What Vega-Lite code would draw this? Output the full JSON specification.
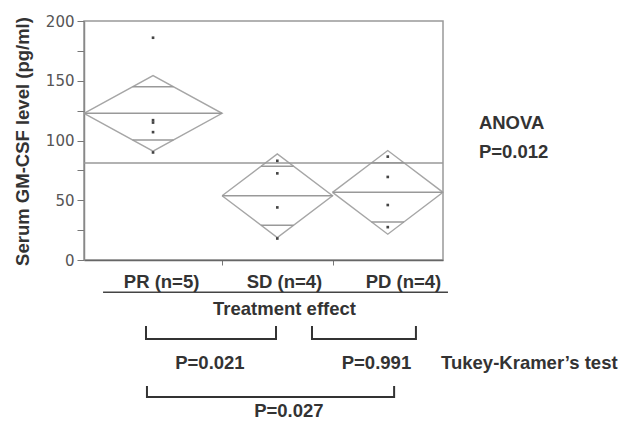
{
  "$schema": "https://vega.github.io/schema/vega-lite/v6.json",
  "width": 359,
  "height": 239,
  "autosize": {"type": "none"},
  "padding": {"left": 84, "top": 21, "right": 179, "bottom": 165},
  "background": "white",
  "config": {
    "view": {"stroke": "#999999", "strokeWidth": 1.5},
    "axis": {"grid": false}
  },
  "datasets": {
    "diamonds": [
      {"g": "PR", "x": 0, "y": 122.7, "o": 0},
      {"g": "PR", "x": 2.5, "y": 154.3, "o": 1},
      {"g": "PR", "x": 5, "y": 122.7, "o": 2},
      {"g": "PR", "x": 2.5, "y": 91.1, "o": 3},
      {"g": "PR", "x": 0, "y": 122.7, "o": 4},
      {"g": "SD", "x": 5, "y": 53.8, "o": 0},
      {"g": "SD", "x": 7, "y": 88.8, "o": 1},
      {"g": "SD", "x": 9, "y": 53.8, "o": 2},
      {"g": "SD", "x": 7, "y": 18.8, "o": 3},
      {"g": "SD", "x": 5, "y": 53.8, "o": 4},
      {"g": "PD", "x": 9, "y": 56.6, "o": 0},
      {"g": "PD", "x": 11, "y": 91.6, "o": 1},
      {"g": "PD", "x": 13, "y": 56.6, "o": 2},
      {"g": "PD", "x": 11, "y": 21.6, "o": 3},
      {"g": "PD", "x": 9, "y": 56.6, "o": 4}
    ],
    "rules": [
      {"x": 0, "x2": 5, "y": 122.7},
      {"x": 1.76, "x2": 3.24, "y": 145.0},
      {"x": 1.76, "x2": 3.24, "y": 100.4},
      {"x": 5, "x2": 9, "y": 53.8},
      {"x": 6.41, "x2": 7.59, "y": 78.5},
      {"x": 6.41, "x2": 7.59, "y": 29.1},
      {"x": 9, "x2": 13, "y": 56.6},
      {"x": 10.41, "x2": 11.59, "y": 81.35},
      {"x": 10.41, "x2": 11.59, "y": 31.85},
      {"x": 0, "x2": 13, "y": 81.2}
    ],
    "underline": [
      {"x": 0.69, "x2": 13.18, "y": -27}
    ],
    "points": [
      {"g": "PR", "x": 2.5, "y": 186},
      {"g": "PR", "x": 2.5, "y": 117},
      {"g": "PR", "x": 2.5, "y": 115},
      {"g": "PR", "x": 2.5, "y": 107},
      {"g": "PR", "x": 2.5, "y": 90},
      {"g": "SD", "x": 7, "y": 83},
      {"g": "SD", "x": 7, "y": 72.5},
      {"g": "SD", "x": 7, "y": 44},
      {"g": "SD", "x": 7, "y": 18},
      {"g": "PD", "x": 11, "y": 86.5},
      {"g": "PD", "x": 11, "y": 69.5},
      {"g": "PD", "x": 11, "y": 46},
      {"g": "PD", "x": 11, "y": 27.5}
    ],
    "brackets": [
      {"b": "PR-SD", "x": 2.245, "y": -55.2, "o": 0},
      {"b": "PR-SD", "x": 2.245, "y": -66.1, "o": 1},
      {"b": "PR-SD", "x": 6.953, "y": -66.1, "o": 2},
      {"b": "PR-SD", "x": 6.953, "y": -55.2, "o": 3},
      {"b": "SD-PD", "x": 8.256, "y": -55.2, "o": 0},
      {"b": "SD-PD", "x": 8.256, "y": -66.1, "o": 1},
      {"b": "SD-PD", "x": 12.02, "y": -66.1, "o": 2},
      {"b": "SD-PD", "x": 12.02, "y": -55.2, "o": 3},
      {"b": "PR-PD", "x": 2.28, "y": -105.4, "o": 0},
      {"b": "PR-PD", "x": 2.28, "y": -114.6, "o": 1},
      {"b": "PR-PD", "x": 11.23, "y": -114.6, "o": 2},
      {"b": "PR-PD", "x": 11.23, "y": -105.4, "o": 3}
    ],
    "textsCenter": [
      {"t": "PR (n=5)", "x": 2.81, "y": -18.2},
      {"t": "SD (n=4)", "x": 7.26, "y": -18.2},
      {"t": "PD (n=4)", "x": 11.57, "y": -18.2},
      {"t": "Treatment effect", "x": 7.26, "y": -41.2},
      {"t": "P=0.021", "x": 4.56, "y": -86.5},
      {"t": "P=0.991", "x": 10.59, "y": -86.5},
      {"t": "P=0.027", "x": 7.42, "y": -126}
    ],
    "textsLeft": [
      {"t": "Tukey-Kramer’s test", "x": 12.93, "y": -86.5},
      {"t": "ANOVA", "x": 14.3, "y": 114.5},
      {"t": "P=0.012", "x": 14.3, "y": 90.5}
    ]
  },
  "encoding": {
    "x": {
      "field": "x",
      "type": "quantitative",
      "scale": {"domain": [0, 13], "nice": false, "zero": false},
      "axis": {
        "values": [5, 9],
        "labels": false,
        "title": null,
        "tickSize": 5,
        "tickColor": "#777777",
        "domainColor": "#666666",
        "domainWidth": 1.5
      }
    },
    "y": {
      "field": "y",
      "type": "quantitative",
      "scale": {"domain": [0, 200], "nice": false, "zero": false},
      "axis": {
        "values": [0, 25, 50, 75, 100, 125, 150, 175, 200],
        "labelExpr": "datum.value % 50 === 0 ? datum.label : ''",
        "labelFont": "DejaVu Sans",
        "labelFontSize": 15,
        "labelColor": "#555555",
        "labelPadding": 3,
        "tickSize": 7,
        "tickColor": "#777777",
        "domainColor": "#888888",
        "domainWidth": 1.5,
        "title": "Serum GM-CSF level (pg/ml)",
        "titleFont": "Liberation Sans",
        "titleFontWeight": "bold",
        "titleFontSize": 18.5,
        "titleColor": "#333333",
        "titleAngle": -90,
        "titleAlign": "center",
        "titleBaseline": "alphabetic",
        "titleX": -56,
        "titleY": 120
      }
    }
  },
  "layer": [
    {
      "data": {"name": "diamonds"},
      "mark": {"type": "line", "color": "#a6a6a6", "strokeWidth": 1.4},
      "encoding": {
        "detail": {"field": "g"},
        "order": {"field": "o", "type": "quantitative"}
      }
    },
    {
      "data": {"name": "rules"},
      "mark": {"type": "rule", "color": "#999999", "strokeWidth": 1.5},
      "encoding": {"x2": {"field": "x2"}}
    },
    {
      "data": {"name": "underline"},
      "mark": {"type": "rule", "color": "#444444", "strokeWidth": 1.5},
      "encoding": {"x2": {"field": "x2"}}
    },
    {
      "data": {"name": "points"},
      "mark": {"type": "square", "color": "#444444", "size": 7, "opacity": 1, "filled": true}
    },
    {
      "data": {"name": "brackets"},
      "mark": {"type": "line", "color": "#333333", "strokeWidth": 2},
      "encoding": {
        "detail": {"field": "b"},
        "order": {"field": "o", "type": "quantitative"}
      }
    },
    {
      "data": {"name": "textsCenter"},
      "mark": {"type": "text", "font": "Liberation Sans", "fontWeight": "bold", "fontSize": 18.5, "color": "#333333", "align": "center", "baseline": "middle"},
      "encoding": {"text": {"field": "t"}}
    },
    {
      "data": {"name": "textsLeft"},
      "mark": {"type": "text", "font": "Liberation Sans", "fontWeight": "bold", "fontSize": 18.5, "color": "#333333", "align": "left", "baseline": "middle"},
      "encoding": {"text": {"field": "t"}}
    }
  ]
}
